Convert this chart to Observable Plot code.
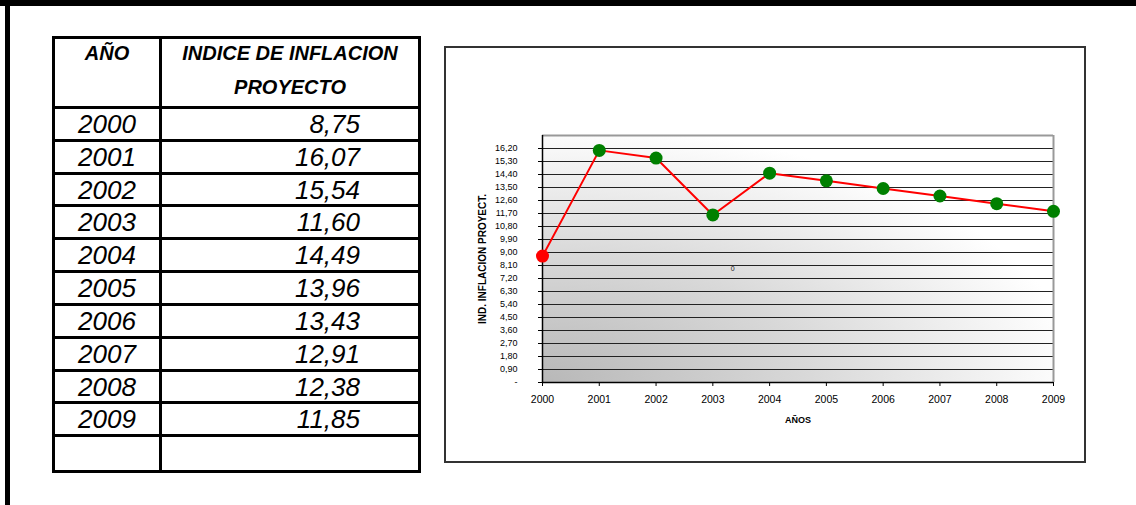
<!DOCTYPE html>
<html>
<head>
<meta charset="utf-8">
<script src="https://cdn.jsdelivr.net/npm/d3@7"></script>
<script src="https://cdn.jsdelivr.net/npm/@observablehq/plot@0.6"></script>
<style>
  html, body { margin: 0; padding: 0; background: #fff; }
  body { width: 1136px; height: 505px; position: relative; overflow: hidden;
         font-family: "Liberation Sans", Arial, sans-serif; }
  #topbar { position: absolute; left: 0; top: 0; width: 1136px; height: 6px; background: #000; }
  #leftbar { position: absolute; left: 5px; top: 0; width: 5px; height: 505px; background: #000; }
  #table { position: absolute; left: 52px; top: 36px; width: 369px; height: 437px;
           box-sizing: border-box; border: 3px solid #000;
           display: grid; grid-template-columns: 107px 1fr; grid-template-rows: 70px repeat(11, 1fr); }
  #table .cell { border-right: 3px solid #000; border-bottom: 3px solid #000; box-sizing: border-box;
                 font-style: italic; color: #000; overflow: hidden; }
  #table .c2 { border-right: none; }
  #table .last { border-bottom: none; }
  #table .head { font-weight: bold; font-size: 20px; line-height: 34px; text-align: center; }
  #table .head span { position: relative; top: -3px; display: block; }
  #table .year { font-size: 26px; line-height: 30px; text-align: center; }
  #table .val { font-size: 26px; line-height: 30px; text-align: right; padding-right: 58px; }
  #chartbox { position: absolute; left: 444px; top: 46px; width: 642px; height: 417px;
              box-sizing: border-box; border: 2px solid #333; }
  #chart { position: absolute; left: 445px; top: 48px; }
</style>
</head>
<body>
<div id="topbar"></div>
<div id="leftbar"></div>
<div id="table"></div>
<div id="chartbox"></div>
<div id="chart"></div>
<script>
// ---- data ----
const years = [2000, 2001, 2002, 2003, 2004, 2005, 2006, 2007, 2008, 2009];
const inflation = [8.75, 16.07, 15.54, 11.60, 14.49, 13.96, 13.43, 12.91, 12.38, 11.85];
const yTicks = [0, 0.9, 1.8, 2.7, 3.6, 4.5, 5.4, 6.3, 7.2, 8.1, 9.0, 9.9, 10.8, 11.7, 12.6, 13.5, 14.4, 15.3, 16.2];
const yMax = 17.1;
const headerYear = "AÑO";
const headerIndex = ["INDICE DE INFLACION", "PROYECTO"];
const xLabel = "AÑOS";
const yLabel = "IND. INFLACION PROYECT.";
const strayLabels = [{x: 2003.35, y: 7.85, text: "0"}];

const fmt = v => v.toFixed(2).replace(".", ",");
const rows = years.map((y, i) => ({year: y, value: inflation[i], first: i === 0}));

// ---- table ----
const table = document.getElementById("table");
function cell(cls, html) {
  const d = document.createElement("div");
  d.className = "cell " + cls;
  d.innerHTML = html;
  table.appendChild(d);
}
cell("head", "<span>" + headerYear + "</span>");
cell("head c2", "<span>" + headerIndex.join("<br>") + "</span>");
rows.forEach(r => {
  cell("year", String(r.year));
  cell("val c2", fmt(r.value));
});
cell("year last", "");
cell("val c2 last", "");

// ---- chart ----
const chart = Plot.plot({
  width: 640,
  height: 413,
  marginLeft: 97,
  marginRight: 32,
  marginTop: 87,
  marginBottom: 79,
  style: {fontFamily: "'Liberation Sans', Arial, sans-serif", background: "transparent", color: "#000"},
  x: {domain: [years[0], years[years.length - 1]]},
  y: {domain: [0, yMax]},
  marks: [
    Plot.frame({fill: "url(#plotGrad)", stroke: "none"}),
    Plot.ruleY(yTicks.slice(1), {stroke: "#222", strokeWidth: 1.2}),
    Plot.ruleY([yMax], {stroke: "#999", strokeWidth: 2}),
    Plot.ruleX([years[years.length - 1]], {stroke: "#999", strokeWidth: 2}),
    Plot.ruleX([years[0]], {stroke: "#000", strokeWidth: 1.5}),
    Plot.ruleY([0], {stroke: "#000", strokeWidth: 1.5}),
    Plot.axisY({ticks: yTicks, tickSize: 4, tickPadding: 21, fontSize: 9,
                tickFormat: v => v === 0 ? "-" : fmt(v), label: null}),
    Plot.axisX({ticks: years, tickSize: 4, tickPadding: 9, fontSize: 10.5,
                tickFormat: d => String(d), label: null}),
    Plot.text([xLabel], {frameAnchor: "bottom", dy: 40, fontWeight: "bold", fontSize: 9}),
    Plot.text([yLabel], {frameAnchor: "left", textAnchor: "middle", rotate: -90, dx: -60,
                         fontWeight: "bold", fontSize: 10}),
    Plot.text(strayLabels, {x: "x", y: "y", text: "text", fontSize: 7, fill: "#222"}),
    Plot.line(rows, {x: "year", y: "value", stroke: "#ff0000", strokeWidth: 2}),
    Plot.dot(rows.filter(d => !d.first), {x: "year", y: "value", r: 6.5, fill: "#008000", stroke: "none"}),
    Plot.dot(rows.filter(d => d.first), {x: "year", y: "value", r: 6.5, fill: "#ff0000", stroke: "none"})
  ]
});

const svg = d3.select(chart);
const defs = svg.insert("defs", ":first-child");
const grad = defs.append("radialGradient")
  .attr("id", "plotGrad")
  .attr("cx", 0).attr("cy", 1).attr("r", 1.05).attr("fx", 0).attr("fy", 1);
grad.append("stop").attr("offset", "0%").attr("stop-color", "#b8b8b8");
grad.append("stop").attr("offset", "50%").attr("stop-color", "#d9d9d9");
grad.append("stop").attr("offset", "100%").attr("stop-color", "#ffffff");

document.getElementById("chart").appendChild(chart);
</script>
</body>
</html>
